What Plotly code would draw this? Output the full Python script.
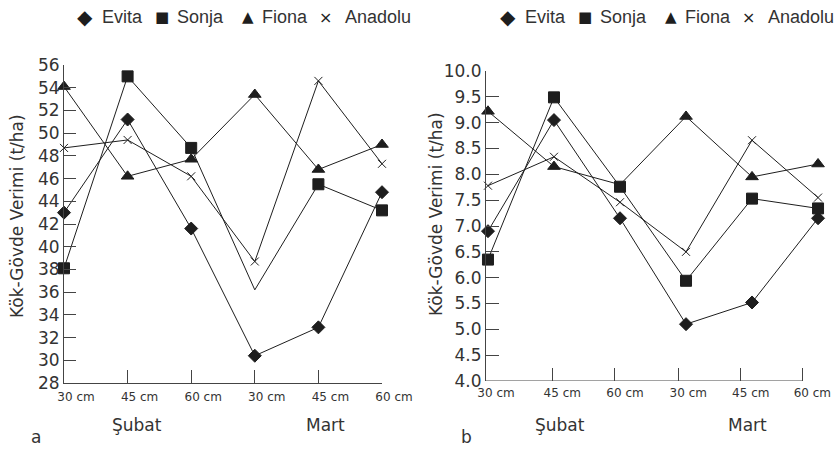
import plotly.graph_objects as go

# ---------------- data ----------------
categories = ["30 cm", "45 cm", "60 cm", "30 cm", "45 cm", "60 cm"]
months = ["Şubat", "Mart"]
series_names = ["Evita", "Sonja", "Fiona", "Anadolu"]

# panel a (t/ha)
a_evita = [43.0, 51.2, 41.6, 30.4, 32.9, 44.8]
a_sonja = [38.1, 55.0, 48.7, 36.2, 45.5, 43.2]
a_fiona = [54.1, 46.2, 47.7, 53.4, 46.8, 49.0]
a_anadolu = [48.7, 49.4, 46.2, 38.7, 54.6, 47.3]

# panel b (t/ha)
b_evita = [6.9, 9.05, 7.15, 5.1, 5.52, 7.15]
b_sonja = [6.35, 9.49, 7.76, 5.94, 7.53, 7.34]
b_fiona = [9.22, 8.15, 7.8, 9.12, 7.95, 8.2]
b_anadolu = [7.78, 8.34, 7.46, 6.5, 8.66, 7.55]

a_yticks = list(range(28, 57, 2))
b_yticks = [4.0 + 0.5 * i for i in range(13)]

y_title = "Kök-Gövde Verimi (t/ha)"
panel_letters = ["a", "b"]

# ---------------- styling ----------------
W, H = 834, 450
INK = "#1e1e1e"
AX = "#444444"
FONT = "DejaVu Sans, Verdana, sans-serif"
LEGFONT = "Liberation Sans, Arial, sans-serif"

def px(x):
    return x / W

def py(y):
    return 1 - y / H

xs = list(range(len(categories)))

styles = {
    "Evita": dict(symbol="diamond", size=10),
    "Sonja": dict(symbol="square", size=11),
    "Fiona": dict(symbol="triangle-up", size=11),
    "Anadolu": dict(symbol="x-thin", size=8),
}

fig = go.Figure()

def add_series(name, vals, xa, ya, sizes=None):
    st = styles[name]
    size = sizes if sizes is not None else st["size"]
    fig.add_trace(go.Scatter(
        x=xs, y=vals, mode="lines+markers", name=name,
        xaxis=xa, yaxis=ya, cliponaxis=False,
        line=dict(color=INK, width=1),
        marker=dict(symbol=st["symbol"], size=size, color=INK, opacity=1,
                    line=dict(color=INK, width=1)),
        showlegend=False,
    ))

# panel a
add_series("Evita", a_evita, "x", "y")
add_series("Sonja", a_sonja, "x", "y", sizes=[11, 11, 11, 0, 11, 11])
add_series("Fiona", a_fiona, "x", "y")
add_series("Anadolu", a_anadolu, "x", "y")
# panel b
add_series("Evita", b_evita, "x2", "y2")
add_series("Sonja", b_sonja, "x2", "y2")
add_series("Fiona", b_fiona, "x2", "y2", sizes=[11, 11, 0, 11, 11, 11])
add_series("Anadolu", b_anadolu, "x2", "y2")

tickfont_x = dict(family=FONT, size=12, color="#333")
tickfont_y = dict(family=FONT, size=17, color="#333")

b_tickvals = [-0.03, 0.974, 1.924, 2.883, 3.829, 4.762]

common = dict(showgrid=False, zeroline=False, automargin=False,
              tickcolor=AX, tickwidth=1)

fig.update_layout(
    width=W, height=H,
    margin=dict(l=0, r=0, t=0, b=0, autoexpand=False),
    paper_bgcolor="white", plot_bgcolor="white",
    showlegend=False,
    xaxis=dict(domain=[px(64), px(382)], range=[0, 5], anchor="y",
               showline=True, linecolor=AX, linewidth=1,
               ticks="inside", ticklen=13,
               tickvals=xs, ticktext=categories, ticklabelshift=12,
               ticklabelstandoff=3, tickfont=tickfont_x, **common),
    yaxis=dict(domain=[py(383), py(65)], range=[28, 56], anchor="x",
               showline=True, linecolor=AX, linewidth=1,
               ticks="inside", ticklen=12,
               tickvals=a_yticks, tickfont=tickfont_y, **common),
    xaxis2=dict(domain=[px(486), px(822)], range=[-0.03, 5.06], anchor="y2",
                showline=False,
                ticks="inside", ticklen=13,
                tickvals=b_tickvals, ticktext=categories, ticklabelshift=10,
                ticklabelstandoff=3, tickfont=tickfont_x, **common),
    yaxis2=dict(domain=[py(381), py(71)], range=[4, 10], anchor="x2",
                showline=True, linecolor=AX, linewidth=1,
                ticks="inside", ticklen=13,
                tickvals=b_yticks, tickformat=".1f", tickfont=tickfont_y, **common),
)

# x-axis line of panel b (ends at last tick)
fig.add_shape(type="line", xref="x2", yref="y2",
              x0=b_tickvals[0], x1=b_tickvals[-1], y0=4, y1=4,
              line=dict(color=AX, width=1))

ann = []
# y titles
for xc, yc in [(17, 216), (436, 214)]:
    ann.append(dict(text=y_title, x=px(xc), y=py(yc), xref="paper", yref="paper",
                    textangle=-90, showarrow=False, xanchor="center", yanchor="middle",
                    font=dict(family=FONT, size=17, color="#333")))
# month labels
for (xm1, xm2) in [(137, 325), (560, 747)]:
    for m, xm in zip(months, [xm1, xm2]):
        ann.append(dict(text=m, x=px(xm), y=py(425), xref="paper", yref="paper",
                        showarrow=False, xanchor="center", yanchor="middle",
                        font=dict(family=FONT, size=17, color="#333")))
# panel letters
for letter, xl in zip(panel_letters, [36, 467]):
    ann.append(dict(text=letter, x=px(xl), y=py(437), xref="paper", yref="paper",
                    showarrow=False, xanchor="center", yanchor="middle",
                    font=dict(family=FONT, size=17, color="#333")))
# legends (text)
symbols = ["◆", "■", "▲", "×"]
sym_x = [85, 162, 248, 325]
txt_x = [100, 175, 260, 343]
sym_sizes = [20, 15, 15, 16]
for off in [0, 423]:
    for s, name, sx, tx, ss in zip(symbols, series_names, sym_x, txt_x, sym_sizes):
        ann.append(dict(text=s, x=px(sx + off), y=py(17), xref="paper", yref="paper",
                        showarrow=False, xanchor="center", yanchor="middle",
                        font=dict(family=FONT, size=ss, color=INK)))
        ann.append(dict(text=name, x=px(tx + off), y=py(17), xref="paper", yref="paper",
                        showarrow=False, xanchor="left", yanchor="middle",
                        font=dict(family=LEGFONT, size=18, color="#333")))
fig.update_layout(annotations=ann)

fig.write_html(
    "out.html",
    config={"displayModeBar": False, "staticPlot": True},
    post_script="document.body.style.margin='0';document.body.style.padding='0';"
                "document.body.style.overflow='hidden';",
)
